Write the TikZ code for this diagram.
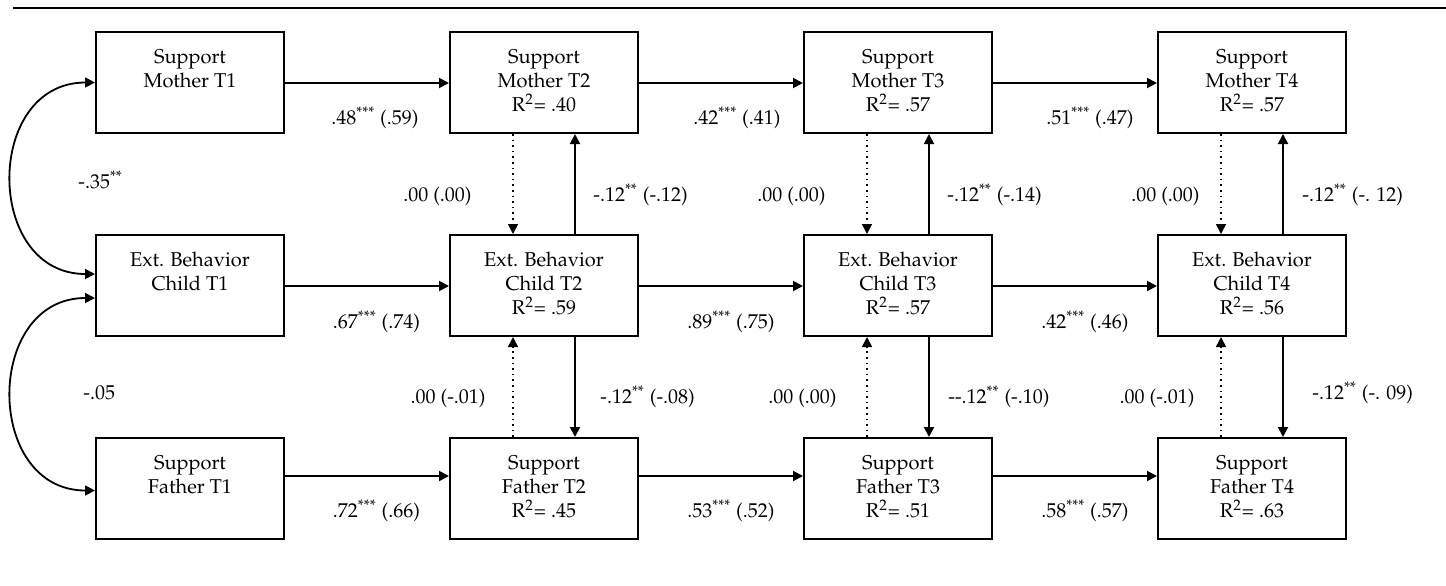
\documentclass[tikz,border=0pt]{standalone}
\usepackage[T1]{fontenc}
\usepackage{mathpazo}
\usetikzlibrary{arrows.meta}
\newcommand{\sig}[1]{\textsuperscript{#1}}
\begin{document}
\begin{tikzpicture}[x=0.5pt,y=-0.5pt,
  var/.style={draw,line width=1pt,minimum width=94pt,minimum height=50.5pt,
    inner sep=0pt,align=center,font=\fontsize{10}{12}\selectfont},
  reg/.style={line width=0.95pt,-{Triangle[length=5pt,width=5pt]}},
  nul/.style={reg,line width=0.8pt,dotted},
  cov/.style={line width=0.9pt,{Triangle[length=5pt,width=5pt]}-{Triangle[length=5pt,width=5pt]}},
  coef/.style={inner sep=0pt,font=\fontsize{10}{12}\selectfont},
  lcoef/.style={coef,anchor=base east},
  rcoef/.style={coef,anchor=base west},
  ccoef/.style={coef,anchor=base}]
\useasboundingbox (0,0) rectangle (1446,585);
% rule across the top
\draw[line width=1pt] (13,7.5) -- (1446,7.5);

% variables: mothers' support, child behaviour, fathers' support
\node[var] (m1) at (190,82.5)  {\strut Support\\Mother T1\\\strut};
\node[var] (m2) at (544,82.5)  {\strut Support\\Mother T2\\R\sig{2}= .40\strut};
\node[var] (m3) at (898,82.5)  {\strut Support\\Mother T3\\R\sig{2}= .57\strut};
\node[var] (m4) at (1252,82.5) {\strut Support\\Mother T4\\R\sig{2}= .57\strut};
\node[var] (e1) at (190,285.5)  {\strut Ext. Behavior\\Child T1\\\strut};
\node[var] (e2) at (544,285.5)  {\strut Ext. Behavior\\Child T2\\R\sig{2}= .59\strut};
\node[var] (e3) at (898,285.5)  {\strut Ext. Behavior\\Child T3\\R\sig{2}= .57\strut};
\node[var] (e4) at (1252,285.5) {\strut Ext. Behavior\\Child T4\\R\sig{2}= .56\strut};
\node[var] (f1) at (190,488.5)  {\strut Support\\Father T1\\\strut};
\node[var] (f2) at (544,488.5)  {\strut Support\\Father T2\\R\sig{2}= .45\strut};
\node[var] (f3) at (898,488.5)  {\strut Support\\Father T3\\R\sig{2}= .51\strut};
\node[var] (f4) at (1252,488.5) {\strut Support\\Father T4\\R\sig{2}= .63\strut};

% stability paths
\foreach \a/\b in {m1/m2,m2/m3,m3/m4,e1/e2,e2/e3,e3/e4}{
  \draw[reg] ([yshift=-0.25pt]\a.east) -- ([yshift=-0.25pt]\b.west);
}
\foreach \a/\b in {f1/f2,f2/f3,f3/f4}{
  \draw[reg] ([yshift=6.25pt]\a.east) -- ([yshift=6.25pt]\b.west);
}

% cross-lagged paths (same time point)
\foreach \k in {2,3,4}{
  \draw[nul] ([xshift=-15.5pt]m\k.south) -- ([xshift=-15.5pt]e\k.north);
  \draw[reg] ([xshift=15.5pt]e\k.north) -- ([xshift=15.5pt]m\k.south);
  \draw[nul] ([xshift=-15.5pt]f\k.north) -- ([xshift=-15.5pt]e\k.south);
  \draw[reg] ([xshift=15.5pt]e\k.south) -- ([xshift=15.5pt]f\k.north);
}

% correlations at T1
\draw[cov] (m1.west) .. controls +(-111,0) and +(-111,0) .. ([yshift=5.75pt]e1.west);
\draw[cov] ([yshift=-6.25pt]e1.west) .. controls +(-111,0) and +(-111,0) .. ([yshift=-1pt]f1.west);
\node[rcoef] (c1) at (78,188.5) {-.35\sig{**}};
\node[rcoef] (c2) at (83,399.5) {-.05};

% stability coefficients
\node[ccoef] (sm12) at (375,124.5)  {.48\sig{***} (.59)};
\node[ccoef] (sm23) at (737,124.5)  {.42\sig{***} (.41)};
\node[ccoef] (sm34) at (1090,124.5) {.51\sig{***} (.47)};
\node[ccoef] (se12) at (376.5,328.5) {.67\sig{***} (.74)};
\node[ccoef] (se23) at (731,328.5)   {.89\sig{***} (.75)};
\node[ccoef] (se34) at (1085,328.5)  {.42\sig{***} (.46)};
\node[ccoef] (sf12) at (376.5,517.5) {.72\sig{***} (.66)};
\node[ccoef] (sf23) at (731,517.5)   {.53\sig{***} (.52)};
\node[ccoef] (sf34) at (1085,517.5)  {.58\sig{***} (.57)};

% cross-lagged coefficients, mothers
\node[lcoef] (xm2a) at (472,201.5)  {.00 (.00)};
\node[rcoef] (xm2b) at (593,201.5)  {-.12\sig{**} (-.12)};
\node[lcoef] (xm3a) at (826,201.5)  {.00 (.00)};
\node[rcoef] (xm3b) at (947,201.5)  {-.12\sig{**} (-.14)};
\node[lcoef] (xm4a) at (1200,201.5) {.00 (.00)};
\node[rcoef] (xm4b) at (1302,201.5) {-.12\sig{**} (-. 12)};

% cross-lagged coefficients, fathers
\node[lcoef] (xf2a) at (486,403.5)  {.00 (-.01)};
\node[rcoef] (xf2b) at (600,403.5)  {-.12\sig{**} (-.08)};
\node[lcoef] (xf3a) at (837,403.5)  {.00 (.00)};
\node[rcoef] (xf3b) at (948,403.5)  {-{}-.12\sig{**} (-.10)};
\node[lcoef] (xf4a) at (1195,403.5) {.00 (-.01)};
\node[rcoef] (xf4b) at (1312,399.5) {-.12\sig{**} (-. 09)};
\end{tikzpicture}
\end{document}
